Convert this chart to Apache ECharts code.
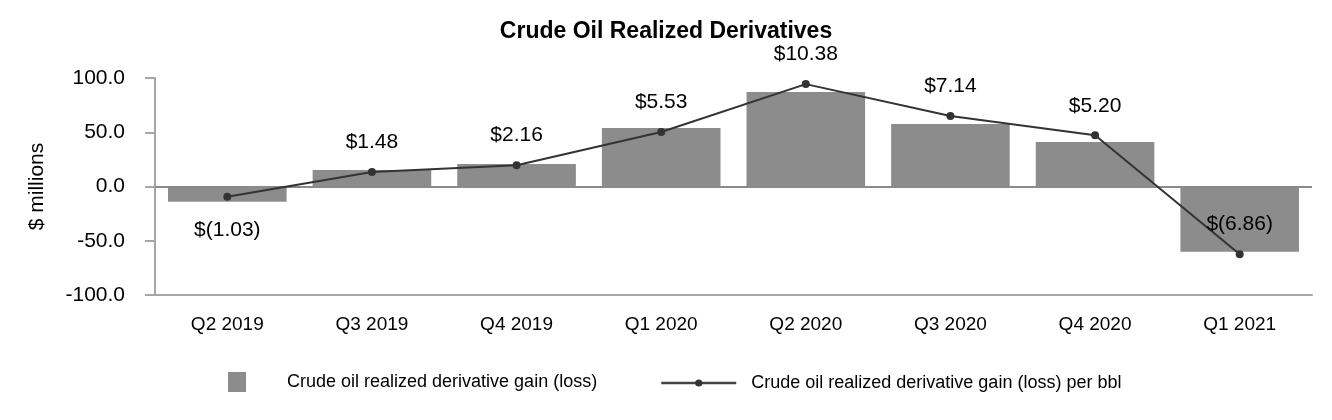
<!DOCTYPE html>
<html>
<head>
<meta charset="utf-8">
<script src="https://cdn.jsdelivr.net/npm/echarts@6/dist/echarts.min.js"></script>
<style>html,body{margin:0;padding:0;background:#fff}#c{width:1332px;height:420px}</style>
</head>
<body>
<div id="c"></div>
<script>
const categories = ['Q2 2019','Q3 2019','Q4 2019','Q1 2020','Q2 2020','Q3 2020','Q4 2020','Q1 2021'];
const gainLoss = [-14.0, 15.2, 20.7, 53.9, 87.1, 57.6, 41.0, -60.1];
const perBbl = [-1.03, 1.48, 2.16, 5.53, 10.38, 7.14, 5.20, -6.86];
const yTicks = { min: -100, max: 100, interval: 50 };

const FONT = 'Liberation Sans, Arial, sans-serif';
const fmtBbl = v => v < 0 ? '$(' + Math.abs(v).toFixed(2) + ')' : '$' + v.toFixed(2);

const chart = echarts.init(document.getElementById('c'));
chart.setOption({
  animation: false,
  textStyle: { fontFamily: FONT },
  title: {
    text: 'Crude Oil Realized Derivatives',
    left: 'center', top: 15,
    textStyle: { fontFamily: FONT, fontSize: 23, fontWeight: 'bold', color: '#000' }
  },
  legend: [{
    data: ['Crude oil realized derivative gain (loss)'],
    left: 223, top: 367,
    itemWidth: 18, itemHeight: 20,
    icon: 'rect',
    textStyle: { fontFamily: FONT, fontSize: 18, color: '#000', padding: [0, 0, 0, 36] }
  }, {
    data: ['Crude oil realized derivative gain (loss) per bbl'],
    left: 655, top: 369,
    itemWidth: 75, itemHeight: 9,
    lineStyle: { width: 2.5, color: '#444' },
    itemStyle: { color: '#333' },
    textStyle: { fontFamily: FONT, fontSize: 18, color: '#000', padding: [0, 0, 0, 10] }
  }],
  grid: { left: 155, right: 20, top: 78, bottom: 125 },
  xAxis: {
    type: 'category',
    data: categories,
    axisLine: { onZero: false, lineStyle: { color: '#a6a6a6', width: 2 } },
    axisTick: { alignWithLabel: true, length: 10, lineStyle: { color: '#a6a6a6', width: 2 } },
    axisLabel: { color: '#000', fontSize: 19, margin: 20, fontFamily: FONT }
  },
  yAxis: [{
    type: 'value',
    min: yTicks.min, max: yTicks.max, interval: yTicks.interval,
    name: '$ millions', nameLocation: 'middle', nameGap: 107, nameRotate: 90,
    nameTextStyle: { color: '#000', fontSize: 21, fontFamily: FONT },
    axisLine: { show: true, lineStyle: { color: '#a6a6a6', width: 2 } },
    axisTick: { show: true, length: 10, lineStyle: { color: '#a6a6a6', width: 2 } },
    splitLine: { show: false },
    axisLabel: { color: '#000', fontSize: 21, margin: 30, fontFamily: FONT, formatter: v => v.toFixed(1) }
  }, {
    type: 'value', min: -11, max: 11, show: false, splitLine: { show: false }
  }],
  series: [{
    name: 'Crude oil realized derivative gain (loss)',
    type: 'bar',
    data: gainLoss,
    barCategoryGap: '18%',
    itemStyle: { color: '#8c8c8c' },
    markLine: {
      silent: true, symbol: 'none',
      label: { show: false },
      lineStyle: { color: '#8a8a8a', width: 2, type: 'solid' },
      data: [{ yAxis: 0 }]
    }
  }, {
    name: 'Crude oil realized derivative gain (loss) per bbl',
    type: 'line',
    yAxisIndex: 1,
    data: perBbl.map((v, i) => ({
      value: v,
      label: { position: i === 0 ? 'bottom' : 'top', distance: i === 0 ? 19 : 15 }
    })),
    symbol: 'circle', symbolSize: 8,
    itemStyle: { color: '#333' },
    lineStyle: { color: '#333', width: 2 },
    z: 5,
    label: {
      show: true, color: '#000', fontSize: 21, fontFamily: FONT,
      formatter: p => fmtBbl(p.value)
    }
  }]
});
</script>
</body>
</html>
